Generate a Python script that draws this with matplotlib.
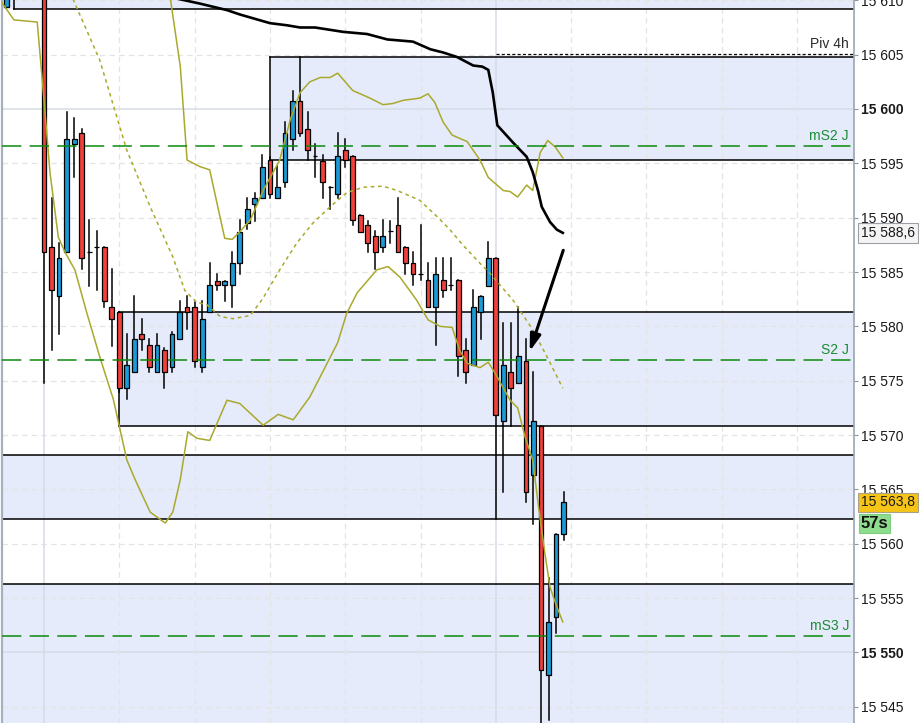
import matplotlib
matplotlib.use("Agg")
import matplotlib.pyplot as plt
import matplotlib.transforms as mtransforms
from matplotlib.patches import Rectangle

plt.rcParams['font.family'] = ['Liberation Sans', 'DejaVu Sans']
plt.rcParams['lines.scale_dashes'] = False

# candles (index, open, high, low, close)
idx = [-5] + list(range(70))
opens = [15609.4,
         15614.0, 15587.3, 15582.8, 15586.8, 15596.8, 15597.8, 15586.8, 15587.3, 15587.3, 15581.8,
         15581.3, 15574.3, 15575.8, 15579.3, 15578.3, 15575.8, 15577.8, 15576.3, 15578.8, 15581.8,
         15581.8, 15576.3, 15581.3, 15584.2, 15583.8, 15583.8, 15585.8, 15589.5, 15591.3, 15591.8,
         15595.3, 15591.8, 15593.3, 15597.2, 15600.7, 15598.2, 15595.7, 15595.2, 15592.8, 15592.2,
         15596.2, 15595.7, 15590.2, 15589.3, 15588.3, 15587.3, 15588.8, 15589.3, 15587.3, 15585.8,
         15584.8, 15584.3, 15581.8, 15584.3, 15583.8, 15584.3, 15577.8, 15576.4, 15581.3, 15583.7,
         15586.3, 15571.3, 15575.8, 15574.8, 15576.8, 15566.3, 15570.8, 15547.9, 15553.3, 15560.9]
highs = [15612.0,
         15616.0, 15591.8, 15587.7, 15599.7, 15599.2, 15598.2, 15589.8, 15588.8, 15587.3, 15585.3,
         15581.3, 15579.3, 15582.8, 15580.7, 15578.8, 15579.3, 15578.0, 15579.5, 15582.3, 15582.8,
         15582.2, 15582.3, 15585.8, 15584.8, 15584.2, 15586.8, 15589.8, 15591.8, 15592.3, 15595.8,
         15595.6, 15594.8, 15598.8, 15601.7, 15604.8, 15599.7, 15596.8, 15595.8, 15592.8, 15597.8,
         15597.2, 15595.7, 15590.2, 15589.7, 15588.8, 15589.8, 15589.7, 15591.8, 15587.3, 15586.8,
         15589.3, 15585.8, 15586.3, 15586.3, 15586.3, 15584.3, 15578.8, 15583.3, 15582.8, 15587.8,
         15586.3, 15580.3, 15580.3, 15581.8, 15578.8, 15575.8, 15570.8, 15556.8, 15560.9, 15564.8]
lows = [15609.3,
        15574.8, 15577.8, 15579.3, 15586.8, 15593.7, 15585.3, 15583.7, 15583.3, 15581.8, 15578.2,
        15574.0, 15573.3, 15575.8, 15577.8, 15575.8, 15575.8, 15574.3, 15575.8, 15578.8, 15579.8,
        15576.3, 15575.8, 15581.3, 15583.3, 15582.3, 15581.8, 15584.8, 15589.0, 15589.7, 15591.8,
        15591.8, 15591.8, 15592.8, 15596.2, 15597.5, 15595.3, 15593.7, 15591.8, 15590.8, 15591.8,
        15594.7, 15589.3, 15588.7, 15586.8, 15585.3, 15586.8, 15587.7, 15586.8, 15584.8, 15583.8,
        15584.3, 15581.8, 15578.3, 15582.7, 15583.3, 15575.4, 15574.8, 15576.4, 15578.8, 15583.7,
        15562.3, 15564.8, 15570.8, 15574.8, 15563.8, 15561.8, 15543.3, 15543.8, 15551.8, 15560.3]
closes = [15611.5,
          15586.8, 15583.3, 15586.3, 15597.2, 15597.2, 15586.3, 15586.8, 15587.3, 15582.3, 15580.7,
          15574.3, 15576.4, 15578.8, 15578.8, 15576.3, 15578.3, 15575.8, 15579.3, 15581.3, 15581.3,
          15576.8, 15580.7, 15583.8, 15583.8, 15584.2, 15585.8, 15588.7, 15590.8, 15591.8, 15594.7,
          15592.2, 15592.8, 15597.8, 15600.7, 15597.8, 15596.2, 15595.7, 15593.3, 15592.8, 15595.7,
          15595.3, 15589.8, 15588.7, 15587.7, 15586.8, 15588.3, 15588.8, 15586.8, 15585.8, 15584.8,
          15584.8, 15581.8, 15584.8, 15583.3, 15583.8, 15577.3, 15575.8, 15581.8, 15582.8, 15586.3,
          15571.8, 15576.4, 15574.3, 15577.3, 15564.8, 15571.3, 15548.4, 15552.8, 15560.9, 15563.8]

# bollinger bands (candle index, price)
lower_x = [-5.6, -4.0, -0.9, 0.0, 0.8, 1.9, 2.8, 4.1, 5.7, 7.4, 9.2, 11.0, 12.1, 14.1, 16.1, 17.1,
           18.1, 19.1, 20.3, 22.0, 24.3, 26.0, 29.1, 31.1, 33.1, 35.3, 37.6, 39.0, 40.2, 41.6,
           44.2, 45.7, 47.3, 49.5, 51.0, 52.6, 54.2, 55.2, 56.2, 57.9, 59.0, 59.9, 61.9, 62.9,
           63.9, 64.9, 65.6, 66.5, 67.2, 68.1, 68.9]
lower_y = [15609.8, 15608.2, 15608.0, 15600.8, 15594.1, 15588.2, 15586.8, 15585.2, 15581.2, 15577.2,
           15573.3, 15567.7, 15565.9, 15562.9, 15561.9, 15562.9, 15565.9, 15570.3, 15569.7, 15569.5,
           15573.2, 15572.9, 15570.9, 15571.9, 15571.4, 15573.5, 15576.6, 15578.5, 15581.2, 15583.1,
           15585.2, 15585.5, 15584.5, 15582.4, 15580.6, 15580.0, 15579.9, 15577.8, 15576.6, 15576.2,
           15576.7, 15575.7, 15573.2, 15572.5, 15569.8, 15567.7, 15563.8, 15559.2, 15556.0, 15554.2,
           15552.8]
upper_x = [16.6, 18.1, 19.0, 20.7, 22.0, 24.0, 25.0, 26.0, 27.4, 29.1, 31.3, 32.7, 34.0, 35.3, 36.7,
           38.0, 39.0, 41.0, 43.3, 45.0, 46.3, 47.7, 49.9, 51.0, 51.9, 53.0, 54.2, 56.2, 57.9, 59.0,
           61.0, 61.9, 62.9, 64.1, 64.9, 65.9, 66.9, 67.9, 68.9]
upper_y = [15611.0, 15603.9, 15595.3, 15594.7, 15594.4, 15588.1, 15588.0, 15588.7, 15589.8, 15592.5,
           15595.3, 15599.0, 15601.5, 15602.5, 15602.9, 15602.9, 15603.3, 15601.7, 15601.0, 15600.4,
           15600.5, 15600.8, 15601.0, 15601.4, 15600.6, 15598.8, 15597.6, 15597.0, 15595.3, 15593.7,
           15592.5, 15592.4, 15591.9, 15593.0, 15592.5, 15596.0, 15597.1, 15596.5, 15595.5]
mid_x = [3.6, 7.4, 11.0, 14.1, 17.1, 18.7, 20.3, 21.6, 23.4, 25.1, 27.4, 29.1, 31.3, 33.6, 35.7, 38.0,
         40.2, 42.4, 45.0, 46.9, 49.9, 52.2, 53.9, 55.6, 57.9, 59.2, 62.3, 64.9, 66.8, 68.9]
mid_y = [15610.5, 15604.5, 15596.2, 15591.0, 15586.4, 15583.3, 15582.2, 15582.0, 15580.9, 15580.7,
         15581.0, 15582.6, 15585.2, 15587.7, 15589.5, 15591.0, 15592.3, 15592.8, 15592.9, 15592.5,
         15591.6, 15590.1, 15588.9, 15587.5, 15585.8, 15584.9, 15582.4, 15579.7, 15577.2, 15574.3]

# black moving average
ma_x = [16.7, 20.7, 24.3, 26.0, 30.0, 32.3, 34.0, 36.0, 39.7, 42.9, 45.6, 49.0, 51.3, 53.0, 54.8,
        57.0, 58.2, 59.0, 59.6, 60.2, 62.3, 64.1, 64.9, 65.6, 66.1, 67.2, 68.1, 68.9]
ma_y = [15610.3, 15609.7, 15609.1, 15608.7, 15607.9, 15607.7, 15607.5, 15607.5, 15607.1, 15606.9,
        15606.4, 15606.2, 15605.5, 15605.2, 15604.8, 15604.0, 15603.9, 15603.6, 15601.5, 15598.5,
        15596.9, 15595.6, 15594.2, 15592.5, 15591.0, 15589.6, 15588.9, 15588.6]

# zones
zone_left = [-4, 30, 10, -7, -7]
zone_low = [15609.2, 15595.3, 15570.8, 15562.3, 15530.0]
zone_high = [15620.0, 15604.8, 15581.3, 15568.2, 15556.3]

# levels
level_names = ['mS2 J', 'S2 J', 'mS3 J']
level_values = [15596.6, 15576.9, 15551.5]
piv_value = 15605.06
piv_start = 60

# arrow (tail, head)
arrow_tail = (68.96, 15587.0)
arrow_head = (64.5, 15577.7)

y_ticks = list(range(15545, 15611, 5))
bold_ticks = [15550, 15600]
timer_text = '57s'

x_lo, x_hi = -5.58, 107.57
y_lo, y_hi = 15543.5, 15610.03

fig = plt.figure(figsize=(9.19, 7.23), dpi=100)
ax = fig.add_axes([2 / 919, 0, 852 / 919, 1])
ax.set_xlim(x_lo, x_hi)
ax.set_ylim(y_lo, y_hi)

zone_fill = '#e5ebfb'
ax.axhspan(zone_low[0], zone_high[0], color=zone_fill, lw=0, zorder=0.4)
for left, lo, hi in zip(zone_left, zone_low, zone_high):
    ax.add_patch(Rectangle((left, lo), x_hi + 5 - left, hi - lo, facecolor=zone_fill,
                           edgecolor='none', zorder=0.5))
    ax.plot([left, x_hi + 5], [lo, lo], color='black', lw=1.1, zorder=2)
    ax.plot([left, x_hi + 5], [hi, hi], color='black', lw=1.1, zorder=2)
    ax.plot([left, left], [lo, hi], color='black', lw=1.1, zorder=2)

# grid
for v in y_ticks:
    if v in bold_ticks:
        ax.axhline(v, color='#d6dce6', lw=1.1, zorder=1)
    else:
        ax.axhline(v, color='#e4e4e4', lw=0.9, dashes=(4, 3), zorder=1)
for i in range(-10, 110, 10):
    if i in (0, 60):
        ax.axvline(i, color='#d6dce6', lw=1.1, zorder=1)
    else:
        ax.axvline(i, color='#e4e4e4', lw=0.9, dashes=(4, 3), zorder=1)

# candles
for i, o, h, l, c in zip(idx, opens, highs, lows, closes):
    col = '#1b9ad6' if c >= o else '#f2403c'
    ax.plot([i, i], [l, h], color='black', lw=1.1, zorder=3)
    ax.bar(i, max(abs(c - o), 0.001), bottom=min(o, c), width=0.64, color=col,
           edgecolor='black', linewidth=0.9, zorder=3.5)

# bands and average
band_col = '#a9a92c'
ax.plot(lower_x, lower_y, color=band_col, lw=1.1, zorder=4)
ax.plot(upper_x, upper_y, color=band_col, lw=1.1, zorder=4)
ax.plot(mid_x, mid_y, color=band_col, lw=1.1, dashes=(2.6, 2.6), zorder=4)
ax.plot(ma_x, ma_y, color='black', lw=1.9, zorder=4.5)

# levels
trans = mtransforms.blended_transform_factory(ax.transAxes, ax.transData)
for name, v in zip(level_names, level_values):
    ax.axhline(v, color='#0a8a0a', lw=1.1, dashes=(13.9, 6.0), zorder=5)
    ax.annotate(name, xy=(0.994, v), xycoords=trans, xytext=(0, 2), textcoords='offset points',
                ha='right', va='bottom', color='#1b8c35', fontsize=10, zorder=6)
ax.plot([piv_start, x_hi + 5], [piv_value, piv_value], color='black', lw=0.9,
        dashes=(2.2, 1.6), zorder=5)
ax.annotate('Piv 4h', xy=(0.994, piv_value), xycoords=trans, xytext=(0, 2),
            textcoords='offset points', ha='right', va='bottom', color='#2a2a2a',
            fontsize=10, zorder=6)

# arrow
ax.annotate('', xy=arrow_head, xytext=arrow_tail,
            arrowprops=dict(arrowstyle='-|>,head_length=1.0,head_width=0.32',
                            lw=2.2, color='black', shrinkA=0, shrinkB=0), zorder=7)

# axis styling
ax.yaxis.tick_right()
ax.set_yticks(y_ticks)
ax.set_yticklabels(['{} {:03d}'.format(v // 1000, v % 1000) for v in y_ticks])
for lab, v in zip(ax.get_yticklabels(), y_ticks):
    if v in bold_ticks:
        lab.set_fontweight('bold')
        lab.set_fontsize(11)
ax.tick_params(axis='y', length=3, width=0.8, color='#8a96a2', pad=2,
               labelsize=10, labelcolor='#1a1a1a')
ax.set_xticks([])
for s in ['top', 'bottom']:
    ax.spines[s].set_visible(False)
ax.spines['right'].set_color('#9aa6b2')
ax.spines['right'].set_linewidth(1.2)
ax.spines['left'].set_color('#a4b2c0')
ax.spines['left'].set_linewidth(1.6)

# price tags
last_close = closes[-1]
last_ma = ma_y[-1]


def fmt(v):
    s = '{:.1f}'.format(v).replace('.', ',')
    return s[:2] + ' ' + s[2:]


ax.text(1.008, last_ma, fmt(last_ma), transform=trans, ha='left', va='center', fontsize=10,
        color='#1a1a1a', clip_on=False, zorder=8,
        bbox=dict(boxstyle='square,pad=0.2', facecolor='#f4f4f4', edgecolor='#9aa0a6', lw=0.8))
ax.text(1.008, last_close, fmt(last_close), transform=trans, ha='left', va='center',
        fontsize=10, color='#1a1a1a', clip_on=False, zorder=8,
        bbox=dict(boxstyle='square,pad=0.2', facecolor='#f6c416', edgecolor='#a8a08a', lw=0.8))
ax.annotate(timer_text, xy=(1.008, last_close), xycoords=trans, xytext=(0, -15.5),
            textcoords='offset points', ha='left', va='center', fontsize=12,
            fontweight='bold', color='#111111', annotation_clip=False, zorder=8,
            bbox=dict(boxstyle='square,pad=0.12', facecolor='#8fdc8f', edgecolor='#7ccf7c', lw=0.8))

plt.savefig('out.png', dpi=100)
